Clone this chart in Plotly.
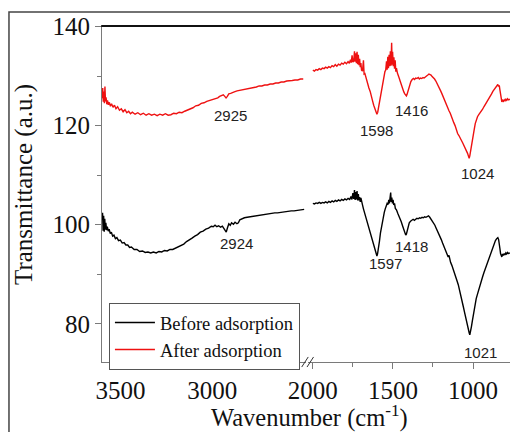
import plotly.graph_objects as go

# ---------------- data ----------------
before_hi_wn = [3600, 3597, 3594, 3591, 3588, 3585, 3582, 3579, 3575, 3571, 3566, 3561, 3555, 3549, 3542, 3535, 3527, 3519, 3510, 3500, 3490, 3480, 3470, 3460, 3450, 3440, 3425, 3410, 3395, 3380, 3365, 3350, 3335, 3320, 3305, 3290, 3275, 3260, 3245, 3230, 3215, 3200, 3185, 3170, 3155, 3140, 3125, 3110, 3095, 3080, 3065, 3050, 3035, 3020, 3005, 2995, 2985, 2975, 2965, 2955, 2945, 2938, 2930, 2924, 2918, 2910, 2902, 2895, 2885, 2876, 2866, 2858, 2850, 2840, 2825, 2810, 2795, 2780, 2765, 2750, 2735, 2720, 2705, 2690, 2675, 2660, 2645, 2630, 2615, 2600, 2585, 2570, 2555, 2540, 2525, 2510, 2500]
before_hi_t = [101.0, 102.4, 98.8, 101.8, 98.6, 101.2, 99.0, 100.4, 98.9, 99.6, 98.7, 99.1, 98.2, 98.5, 97.7, 97.9, 97.2, 97.4, 96.8, 96.9, 96.3, 96.4, 95.9, 95.9, 95.4, 95.5, 95.0, 95.0, 94.6, 94.7, 94.4, 94.5, 94.3, 94.5, 94.3, 94.6, 94.5, 94.8, 94.7, 95.0, 95.0, 95.3, 95.5, 95.9, 96.1, 96.6, 96.9, 97.3, 97.7, 98.0, 98.5, 98.7, 99.1, 99.3, 99.7, 99.6, 99.9, 99.6, 99.8, 99.5, 99.7, 99.2, 98.9, 98.5, 99.3, 100.2, 99.9, 100.4, 100.1, 100.5, 100.2, 100.4, 101.0, 101.2, 101.4, 101.5, 101.6, 101.7, 101.8, 101.9, 102.0, 102.0, 102.2, 102.2, 102.3, 102.4, 102.4, 102.5, 102.6, 102.6, 102.7, 102.8, 102.8, 102.9, 103.0, 103.1, 103.1]

before_lo_wn = [2000, 1990, 1980, 1970, 1960, 1950, 1940, 1930, 1920, 1910, 1900, 1890, 1880, 1870, 1860, 1850, 1840, 1830, 1820, 1810, 1800, 1790, 1780, 1770, 1762, 1756, 1750, 1745, 1740, 1736, 1732, 1728, 1724, 1720, 1716, 1712, 1708, 1704, 1700, 1696, 1690, 1684, 1678, 1670, 1662, 1655, 1648, 1640, 1633, 1626, 1618, 1610, 1604, 1600, 1596, 1590, 1584, 1578, 1572, 1566, 1560, 1554, 1548, 1542, 1536, 1530, 1526, 1522, 1518, 1514, 1511, 1507, 1503, 1499, 1495, 1490, 1485, 1478, 1470, 1462, 1455, 1448, 1440, 1432, 1425, 1420, 1416, 1410, 1404, 1398, 1390, 1382, 1374, 1366, 1358, 1350, 1342, 1334, 1326, 1318, 1310, 1302, 1294, 1286, 1278, 1270, 1262, 1254, 1246, 1238, 1230, 1222, 1214, 1206, 1198, 1190, 1182, 1174, 1166, 1160, 1155, 1150, 1145, 1140, 1132, 1124, 1116, 1108, 1100, 1092, 1084, 1076, 1068, 1060, 1052, 1044, 1036, 1030, 1024, 1020, 1016, 1010, 1004, 998, 992, 986, 980, 972, 964, 956, 948, 940, 932, 924, 916, 908, 900, 892, 884, 876, 868, 860, 852, 845, 840, 836, 832, 828, 824, 820, 815, 810, 805, 800, 795, 790, 785, 780, 775, 770]
before_lo_t = [104.3, 104.2, 104.4, 104.3, 104.5, 104.3, 104.5, 104.4, 104.6, 104.4, 104.7, 104.5, 104.8, 104.6, 104.9, 104.7, 105.0, 104.8, 105.1, 104.9, 105.2, 105.0, 105.3, 105.1, 105.7, 105.1, 106.4, 105.2, 107.0, 105.0, 106.6, 105.1, 106.8, 104.9, 106.2, 104.9, 105.6, 104.6, 105.4, 104.4, 104.0, 103.2, 102.5, 101.6, 100.8, 100.0, 99.2, 98.4, 97.6, 96.6, 95.5, 94.6, 93.9, 93.7, 94.1, 95.2, 96.7, 98.3, 99.6, 100.7, 101.5, 102.5, 103.2, 103.8, 104.3, 104.1, 105.0, 104.3, 105.4, 106.5, 104.6, 105.5, 104.3, 105.0, 104.0, 104.3, 103.3, 103.0, 102.3, 101.8, 101.2, 100.6, 99.8, 98.9, 98.2, 97.9, 98.1, 99.0, 99.8, 100.4, 100.7, 101.0, 101.1, 100.9, 101.2, 101.3, 101.2, 101.4, 101.3, 101.5, 101.4, 101.6, 101.5, 101.7, 101.8, 101.5, 101.1, 100.7, 100.4, 99.9, 99.3, 98.8, 98.2, 97.6, 97.0, 96.3, 95.7, 95.0, 94.6, 94.0, 93.5, 93.8, 92.8, 92.4, 91.8, 91.1, 90.5, 89.6, 88.7, 87.9, 86.9, 85.9, 84.6, 83.4, 82.2, 80.9, 79.8, 79.0, 78.2, 77.8, 78.3, 79.4, 80.6, 81.8, 83.1, 84.2, 85.1, 86.0, 87.0, 87.8, 88.6, 89.5, 90.3, 91.0, 91.8, 92.6, 93.3, 94.1, 94.9, 95.6, 96.2, 96.8, 97.2, 97.4, 97.0, 96.4, 95.2, 94.2, 93.6, 93.5, 94.1, 93.8, 94.2, 93.9, 94.3, 94.1, 94.4, 94.2, 94.3, 94.2]

after_hi_wn = [3600, 3596, 3593, 3590, 3587, 3584, 3581, 3578, 3574, 3570, 3565, 3560, 3554, 3548, 3540, 3532, 3524, 3515, 3505, 3495, 3485, 3475, 3465, 3455, 3445, 3435, 3420, 3405, 3390, 3375, 3360, 3345, 3330, 3315, 3300, 3285, 3270, 3255, 3240, 3225, 3210, 3195, 3180, 3165, 3150, 3135, 3120, 3105, 3090, 3075, 3060, 3045, 3030, 3015, 3000, 2985, 2970, 2960, 2950, 2940, 2932, 2925, 2918, 2910, 2900, 2890, 2880, 2865, 2850, 2835, 2820, 2805, 2790, 2775, 2760, 2745, 2730, 2715, 2700, 2685, 2670, 2655, 2640, 2625, 2610, 2595, 2580, 2565, 2550, 2535, 2520, 2505]
after_hi_t = [125.5, 127.6, 124.8, 126.9, 124.5, 127.9, 124.9, 125.7, 124.3, 125.1, 124.2, 124.7, 123.9, 124.4, 123.7, 124.1, 123.4, 123.8, 123.1, 123.4, 122.8, 123.2, 122.6, 122.9, 122.4, 122.7, 122.3, 122.6, 122.2, 122.5, 122.1, 122.4, 122.1, 122.3, 122.0, 122.3, 122.1, 122.4, 122.1, 122.2, 122.5, 122.4, 122.7, 122.6, 122.9, 123.1, 123.4, 123.6, 124.0, 124.1, 124.5, 124.6, 124.9, 125.1, 125.3, 125.5, 125.6, 125.9, 126.0, 126.2, 125.9, 125.6, 125.9, 126.4, 126.5, 126.7, 126.8, 127.0, 127.1, 127.3, 127.3, 127.5, 127.6, 127.7, 127.8, 128.0, 128.0, 128.2, 128.2, 128.4, 128.4, 128.6, 128.6, 128.8, 128.8, 129.0, 129.0, 129.1, 129.2, 129.2, 129.4, 129.4]

after_lo_wn = [2000, 1990, 1980, 1970, 1960, 1950, 1940, 1930, 1920, 1910, 1900, 1890, 1880, 1870, 1860, 1850, 1840, 1830, 1820, 1810, 1800, 1790, 1780, 1772, 1765, 1760, 1755, 1750, 1745, 1740, 1736, 1732, 1728, 1724, 1720, 1716, 1712, 1708, 1704, 1700, 1696, 1690, 1684, 1680, 1675, 1670, 1664, 1658, 1650, 1642, 1635, 1628, 1620, 1612, 1605, 1600, 1595, 1590, 1584, 1578, 1572, 1566, 1560, 1555, 1550, 1545, 1540, 1536, 1532, 1528, 1524, 1520, 1516, 1512, 1508, 1505, 1502, 1498, 1494, 1490, 1486, 1482, 1478, 1472, 1466, 1460, 1455, 1450, 1444, 1438, 1432, 1426, 1420, 1416, 1412, 1406, 1400, 1394, 1388, 1380, 1372, 1365, 1358, 1350, 1342, 1335, 1328, 1320, 1312, 1305, 1298, 1290, 1282, 1275, 1268, 1262, 1255, 1248, 1240, 1232, 1225, 1218, 1210, 1202, 1195, 1188, 1180, 1172, 1165, 1158, 1150, 1142, 1135, 1128, 1120, 1112, 1104, 1096, 1088, 1080, 1072, 1064, 1056, 1048, 1040, 1034, 1028, 1024, 1020, 1016, 1010, 1004, 998, 992, 986, 980, 972, 964, 956, 948, 940, 932, 924, 916, 908, 900, 892, 884, 876, 868, 860, 852, 845, 840, 836, 832, 828, 824, 820, 815, 810, 805, 800, 795, 790, 785, 780, 775, 770]
after_lo_t = [131.2, 131.0, 131.3, 131.2, 131.5, 131.3, 131.6, 131.5, 131.8, 131.6, 131.9, 131.7, 132.1, 131.9, 132.3, 132.0, 132.4, 132.2, 132.6, 132.4, 132.8, 132.5, 132.9, 132.6, 133.3, 132.7, 134.2, 132.8, 133.0, 135.0, 132.9, 134.6, 132.6, 134.9, 132.4, 134.3, 132.2, 133.5, 131.8, 132.6, 131.2, 131.0, 133.2, 130.4, 130.5, 129.8, 129.2, 128.4, 127.6, 126.9, 126.2, 125.1, 124.1, 123.2, 122.6, 122.3, 122.7, 123.6, 124.6, 125.9, 127.3, 128.5, 129.4, 130.2, 130.9, 131.2, 133.0, 131.3, 133.9, 131.6, 134.3, 132.0, 135.0, 132.1, 136.7, 132.3, 134.9, 132.0, 133.8, 131.5, 133.2, 130.9, 131.6, 130.6, 130.2, 129.5, 129.0, 128.4, 127.8, 127.2, 126.8, 126.4, 126.1, 126.0, 126.3, 127.0, 127.8, 128.4, 128.9, 129.3, 129.5, 129.3, 129.6, 129.5, 129.7, 129.4, 129.6, 129.5, 129.7, 129.6, 129.9, 130.0, 130.2, 130.4, 130.3, 130.2, 129.9, 129.7, 129.4, 129.0, 128.6, 128.1, 127.6, 127.0, 126.5, 125.9, 125.3, 124.8, 124.2, 123.6, 123.0, 122.5, 121.8, 121.2, 120.6, 120.0, 119.0, 118.4, 118.0, 117.6, 117.0, 116.5, 116.0, 115.6, 115.0, 114.4, 113.8, 113.4, 113.9, 114.8, 115.6, 116.6, 118.0, 119.3, 120.4, 121.2, 121.8, 122.2, 122.5, 122.9, 123.3, 123.8, 124.2, 124.6, 125.0, 125.4, 125.9, 126.4, 126.9, 127.3, 127.6, 127.9, 128.3, 127.9, 128.1, 127.2, 126.1, 125.0, 124.8, 125.1, 124.9, 125.2, 125.0, 125.3, 125.1, 125.4, 125.2, 125.3, 125.2]

series_names = ["Before adsorption", "After adsorption"]

# peak labels: text, axis, x (cm-1), y (a.u.)
peak_labels = ["2925", "2924", "1598", "1416", "1024", "1597", "1418", "1021"]
peak_axis = ["x", "x", "x2", "x2", "x2", "x2", "x2", "x2"]
peak_x = [2899, 2866, 1600, 1381, 969, 1544, 1387, 956]
peak_y = [122.1, 96.3, 119.1, 122.95, 110.4, 92.1, 95.7, 74.3]

x1_ticks = [3500, 3000]
x1_minor = [3250, 2750]
x2_ticks = [2000, 1500, 1000]
x2_minor = [1750, 1250]
y_ticks = [80, 100, 120, 140]
y_minor = [90, 110, 130]

# ---------------- figure ----------------
BLACK = "#000000"
RED = "#ee1111"
SERIF = "Liberation Serif"
SANS = "Liberation Sans"
AXIS_GREY = "#7a7a7a"

fig = go.Figure()
fig.add_trace(go.Scatter(x=before_hi_wn, y=before_hi_t, mode="lines", name=series_names[0],
                         line=dict(color=BLACK, width=1.4), xaxis="x", yaxis="y", legendgroup="b"))
fig.add_trace(go.Scatter(x=after_hi_wn, y=after_hi_t, mode="lines", name=series_names[1],
                         line=dict(color=RED, width=1.4), xaxis="x", yaxis="y", legendgroup="a"))
fig.add_trace(go.Scatter(x=before_lo_wn, y=before_lo_t, mode="lines", name=series_names[0],
                         line=dict(color=BLACK, width=1.4), xaxis="x2", yaxis="y", legendgroup="b",
                         showlegend=False))
fig.add_trace(go.Scatter(x=after_lo_wn, y=after_lo_t, mode="lines", name=series_names[1],
                         line=dict(color=RED, width=1.4), xaxis="x2", yaxis="y", legendgroup="a",
                         showlegend=False))

tickfont = dict(family=SERIF, size=25, color="#111")
common_x = dict(showline=True, linecolor=AXIS_GREY, linewidth=1, ticks="outside", ticklen=6,
                tickcolor=AXIS_GREY, tickwidth=1, showgrid=False, zeroline=False, tickfont=tickfont,
                anchor="y")
fig.update_layout(
    width=510, height=432,
    margin=dict(l=102, r=0, t=26, b=70),
    paper_bgcolor="white", plot_bgcolor="white",
    font=dict(family=SERIF),
    xaxis=dict(domain=[0, 0.5], range=[3600, 2490], tickvals=x1_ticks,
               minor=dict(tickvals=x1_minor, ticks="outside", ticklen=4, tickcolor=AXIS_GREY),
               **common_x),
    xaxis2=dict(domain=[0.505, 1], range=[2030, 769], tickvals=x2_ticks,
                minor=dict(tickvals=x2_minor, ticks="outside", ticklen=4, tickcolor=AXIS_GREY),
                **common_x),
    yaxis=dict(range=[72.3, 140.1], tickvals=y_ticks, showline=True, linecolor=AXIS_GREY, linewidth=1,
               ticks="outside", ticklen=6, tickcolor=AXIS_GREY, showgrid=False, zeroline=False,
               tickfont=tickfont,
               minor=dict(tickvals=y_minor, ticks="outside", ticklen=4, tickcolor=AXIS_GREY)),
    showlegend=True,
    legend=dict(x=0.017, y=0.1756, xanchor="left", yanchor="top", bgcolor="white",
                bordercolor="#555", borderwidth=1, font=dict(family=SERIF, size=18.5, color="#111"),
                itemwidth=40, tracegroupgap=0),
)

for txt, ax, xv, yv in zip(peak_labels, peak_axis, peak_x, peak_y):
    fig.add_annotation(text=txt, x=xv, y=yv, xref=ax, yref="y", showarrow=False,
                       xanchor="center", yanchor="middle",
                       font=dict(family=SANS, size=15, color="#222"))

# axis titles
fig.add_annotation(text="Wavenumber (cm<sup>-1</sup>)", x=0.5086, y=-0.163, xref="paper", yref="paper",
                   showarrow=False, xanchor="center", yanchor="middle",
                   font=dict(family=SERIF, size=24.5, color="#111"))
fig.add_annotation(text="Transmittance (a.u.)", x=-0.191, y=0.527, xref="paper", yref="paper",
                   showarrow=False, textangle=-90, xanchor="center", yanchor="middle",
                   font=dict(family=SERIF, size=25, color="#111"))

# top border line of the plot frame
fig.add_shape(type="line", xref="paper", yref="paper", x0=-0.002, x1=1.05, y0=1, y1=1,
              line=dict(color="#111", width=2))
# outer image frame
fig.add_shape(type="rect", xref="paper", yref="paper", x0=-0.228, x1=1.2, y0=-0.5, y1=1.0417,
              line=dict(color="#444", width=1.5))
# axis break marks "//"
for cx in (0.4975, 0.5105):
    fig.add_shape(type="line", xref="paper", yref="paper",
                  x0=cx - 0.008, x1=cx + 0.008, y0=-0.015, y1=0.015,
                  line=dict(color="#333", width=1))

fig.write_html("out.html")
